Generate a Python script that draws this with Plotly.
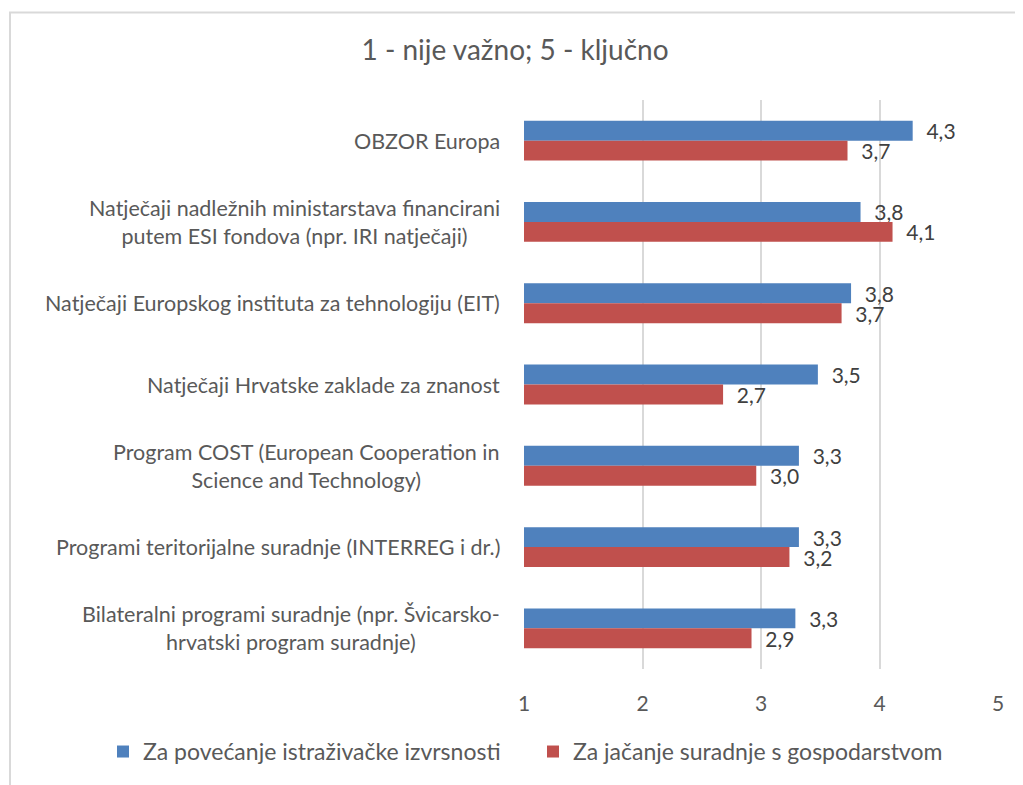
import plotly.graph_objects as go

categories = [
    "OBZOR Europa",
    "Natječaji nadležnih ministarstava financirani<br>putem ESI fondova (npr. IRI natječaji)",
    "Natječaji Europskog instituta za tehnologiju (EIT)",
    "Natječaji Hrvatske zaklade za znanost",
    "Program COST (European Cooperation in<br>Science and Technology)",
    "Programi teritorijalne suradnje (INTERREG i dr.)",
    "Bilateralni programi suradnje (npr. Švicarsko-<br>hrvatski program suradnje)",
]
series_names = ["Za povećanje istraživačke izvrsnosti", "Za jačanje suradnje s gospodarstvom"]
excellence = [4.28, 3.84, 3.76, 3.48, 3.32, 3.32, 3.29]
economy = [3.73, 4.11, 3.68, 2.68, 2.96, 3.24, 2.92]
x_ticks = [1, 2, 3, 4, 5]

colors = ["#4f81bd", "#c0504d"]
FONT = "Lato"
GRAY = "#595959"

def fmt(v):
    return "\u00a0\u00a0" + f"{v:.1f}".replace(".", ",")

# page body has an 8px offset; figure is sized to fill the rest of the window
OFF = 8
W, H = 1023 - OFF, 785 - OFF
L, T = 524 - OFF, 100 - OFF
pw, ph = 474, 572
R = W - L - pw
B = H - T - ph

def px_x(p):
    return (p - OFF - L) / pw
def px_y(p):
    return (H - B - (p - OFF)) / ph

fig = go.Figure()
for name, vals, col in zip(series_names, [excellence, economy], colors):
    fig.add_trace(go.Bar(
        y=categories, x=vals, name=name, orientation="h",
        marker=dict(color=col, line=dict(width=0)),
        text=[fmt(v) for v in vals], textposition="outside", constraintext="none",
        textfont=dict(family=FONT, size=21, color="#404040"),
        cliponaxis=False,
    ))

for c in categories:
    fig.add_annotation(
        x=0, xref="paper", xshift=-22, xanchor="right",
        y=c, yref="y", text=c, showarrow=False, align="center",
        font=dict(family=FONT, size=21.5, color=GRAY),
    )

fig.add_shape(type="rect", xref="paper", yref="paper",
              x0=px_x(10), x1=px_x(1200), y0=px_y(12), y1=px_y(900),
              line=dict(color="#d9d9d9", width=2), fillcolor="rgba(0,0,0,0)", layer="below")

fig.update_layout(
    width=W, height=H,
    margin=dict(l=L, r=R, t=T, b=B),
    paper_bgcolor="white", plot_bgcolor="white",
    barmode="group", bargap=0.51, bargroupgap=0,
    title=dict(text="1 - nije važno; 5 - ključno", x=(515 - OFF) / W, xref="container", xanchor="center",
               y=1 - (50 - OFF) / H, yref="container", yanchor="middle",
               font=dict(family=FONT, size=28, color=GRAY)),
    xaxis=dict(range=[1, 5], tickvals=x_ticks, ticktext=[str(t) for t in x_ticks],
               showgrid=True, gridcolor="#d9d9d9", gridwidth=1.5,
               zeroline=False, showline=False, ticks="",
               ticklabelstandoff=20,
               tickfont=dict(family=FONT, size=21, color=GRAY)),
    yaxis=dict(autorange="reversed", showticklabels=False, showgrid=False, ticks="",
               zeroline=False, showline=False),
    legend=dict(orientation="h", x=px_x(103), xref="paper", xanchor="left",
                y=px_y(755), yref="paper", yanchor="middle",
                font=dict(family=FONT, size=23, color=GRAY), itemwidth=30,
                entrywidth=385, traceorder="normal"),
    showlegend=True,
)

fig.write_html("out.html")
